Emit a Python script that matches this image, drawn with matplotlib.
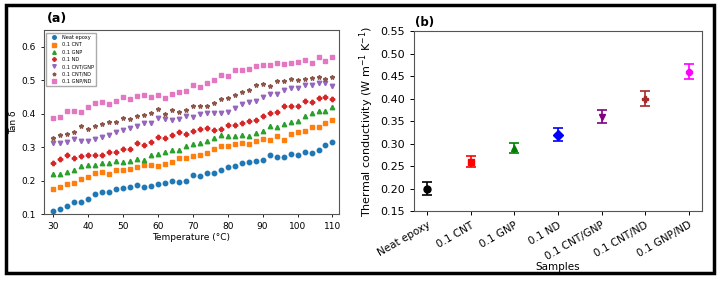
import numpy as np
import matplotlib
matplotlib.use("Agg")
import matplotlib.pyplot as plt
from matplotlib.patches import Rectangle

# (a) tan delta vs temperature
temperature = list(range(30, 111, 2))

neat_epoxy = [0.110, 0.114, 0.125, 0.137, 0.137, 0.145, 0.161, 0.165, 0.166, 0.176,
              0.177, 0.181, 0.187, 0.181, 0.184, 0.191, 0.192, 0.199, 0.197, 0.200,
              0.216, 0.215, 0.222, 0.222, 0.232, 0.242, 0.243, 0.254, 0.255, 0.260,
              0.262, 0.276, 0.271, 0.270, 0.281, 0.277, 0.287, 0.284, 0.293, 0.306, 0.315]
cnt = [0.175, 0.182, 0.191, 0.194, 0.204, 0.212, 0.224, 0.226, 0.221, 0.233,
       0.232, 0.234, 0.241, 0.246, 0.248, 0.244, 0.250, 0.257, 0.267, 0.267,
       0.275, 0.276, 0.283, 0.296, 0.304, 0.304, 0.311, 0.312, 0.311, 0.318,
       0.325, 0.322, 0.332, 0.321, 0.340, 0.344, 0.349, 0.359, 0.359, 0.372, 0.382]
gnp = [0.221, 0.221, 0.226, 0.232, 0.245, 0.246, 0.246, 0.252, 0.254, 0.259,
       0.255, 0.259, 0.264, 0.263, 0.276, 0.281, 0.286, 0.291, 0.292, 0.305,
       0.309, 0.313, 0.319, 0.326, 0.335, 0.332, 0.334, 0.335, 0.332, 0.343,
       0.347, 0.363, 0.360, 0.369, 0.374, 0.377, 0.394, 0.401, 0.407, 0.407, 0.421]
nd = [0.254, 0.266, 0.277, 0.268, 0.273, 0.278, 0.278, 0.277, 0.287, 0.286,
      0.296, 0.296, 0.312, 0.308, 0.317, 0.329, 0.326, 0.336, 0.346, 0.338,
      0.349, 0.353, 0.357, 0.352, 0.355, 0.365, 0.367, 0.372, 0.379, 0.381,
      0.392, 0.401, 0.404, 0.422, 0.424, 0.424, 0.438, 0.435, 0.447, 0.451, 0.445]
cnt_gnp = [0.312, 0.313, 0.317, 0.324, 0.319, 0.319, 0.324, 0.329, 0.336, 0.345,
           0.350, 0.358, 0.362, 0.373, 0.372, 0.387, 0.385, 0.381, 0.384, 0.392,
           0.391, 0.399, 0.401, 0.403, 0.403, 0.405, 0.417, 0.429, 0.435, 0.438,
           0.449, 0.459, 0.460, 0.471, 0.476, 0.476, 0.486, 0.487, 0.491, 0.493, 0.484]
cnt_nd = [0.328, 0.337, 0.340, 0.344, 0.362, 0.355, 0.364, 0.369, 0.375, 0.376,
          0.387, 0.385, 0.392, 0.395, 0.401, 0.413, 0.398, 0.411, 0.404, 0.412,
          0.422, 0.422, 0.422, 0.431, 0.444, 0.447, 0.457, 0.466, 0.472, 0.487,
          0.488, 0.483, 0.498, 0.497, 0.505, 0.501, 0.505, 0.506, 0.510, 0.504, 0.511]
gnp_nd = [0.386, 0.391, 0.407, 0.407, 0.406, 0.421, 0.432, 0.434, 0.430, 0.438,
          0.449, 0.445, 0.452, 0.456, 0.450, 0.455, 0.446, 0.459, 0.466, 0.469,
          0.486, 0.480, 0.492, 0.502, 0.516, 0.513, 0.530, 0.532, 0.534, 0.544,
          0.547, 0.546, 0.551, 0.550, 0.553, 0.556, 0.562, 0.553, 0.570, 0.559, 0.571]

series_labels = ["Neat epoxy", "0.1 CNT", "0.1 GNP", "0.1 ND",
                 "0.1 CNT/GNP", "0.1 CNT/ND", "0.1 GNP/ND"]
series_values = [neat_epoxy, cnt, gnp, nd, cnt_gnp, cnt_nd, gnp_nd]

# (b) thermal conductivity
samples = ["Neat epoxy", "0.1 CNT", "0.1 GNP", "0.1 ND",
           "0.1 CNT/GNP", "0.1 CNT/ND", "0.1 GNP/ND"]
conductivity = [0.20, 0.26, 0.29, 0.32, 0.36, 0.40, 0.46]
conductivity_err = [0.015, 0.012, 0.012, 0.015, 0.015, 0.016, 0.017]

fig = plt.figure(figsize=(7.2, 2.81), dpi=100)

# outer frame
fig.patches.append(Rectangle((0.008, 0.028), 0.984, 0.955, transform=fig.transFigure,
                             fill=False, edgecolor="black", linewidth=2.5))

# ---- panel (a)
ax1 = fig.add_axes([0.061, 0.238, 0.41, 0.655])
markers_a = ["o", "s", "^", "P", "v", "*", "s"]
colors_a = ["tab:blue", "tab:orange", "tab:green", "tab:red",
            "tab:purple", "tab:brown", "tab:pink"]
for vals, lab, m, c in zip(series_values, series_labels, markers_a, colors_a):
    ax1.plot(temperature, vals, linestyle="none", marker=m, color=c,
             markersize=3.2, label=lab)
ax1.set_xlim(27.4, 111.9)
ax1.set_ylim(0.1, 0.65)
ax1.set_xticks([30, 40, 50, 60, 70, 80, 90, 100, 110])
ax1.set_yticks([0.1, 0.2, 0.3, 0.4, 0.5, 0.6])
ax1.tick_params(labelsize=6.5, length=2.5, width=0.6)
ax1.set_xlabel("Temperature (°C)", fontsize=6.5, labelpad=1)
ax1.set_ylabel("Tan δ", fontsize=6.5, labelpad=2)
for s in ax1.spines.values():
    s.set_color("#555555")
ax1.legend(loc="upper left", fontsize=3.6, markerscale=0.8, handletextpad=0.6,
           labelspacing=0.45, borderpad=0.5, framealpha=1, edgecolor="#aaaaaa",
           fancybox=False)
fig.text(0.065, 0.935, "(a)", fontsize=9, fontweight="bold", va="center")

# ---- panel (b)
ax2 = fig.add_axes([0.575, 0.249, 0.40, 0.64])
markers_b = ["o", "s", "^", "D", "v", "P", "8"]
colors_b = ["black", "red", "green", "blue", "purple", "brown", "magenta"]
xpos = np.arange(len(samples))
for i in range(len(samples)):
    ax2.errorbar(xpos[i], conductivity[i], yerr=conductivity_err[i], fmt=markers_b[i],
                 color=colors_b[i], markersize=5, capsize=3.5, elinewidth=1.2,
                 capthick=1.2)
ax2.set_xlim(-0.3, 6.3)
ax2.set_ylim(0.15, 0.55)
ax2.set_yticks(np.arange(0.15, 0.551, 0.05))
ax2.set_yticklabels([f"{v:.2f}" for v in np.arange(0.15, 0.551, 0.05)])
ax2.set_xticks(xpos)
ax2.set_xticklabels(samples, rotation=30, ha="right", rotation_mode="anchor")
ax2.tick_params(axis="y", labelsize=8, length=3, width=0.7)
ax2.tick_params(axis="x", labelsize=7.5, length=3, width=0.7)
ax2.set_xlabel("Samples", fontsize=7.5, labelpad=0)
ax2.set_ylabel("Thermal conductivity (W m$^{-1}$ K$^{-1}$)", fontsize=8, labelpad=3)
for s in ax2.spines.values():
    s.set_color("#555555")
fig.text(0.577, 0.92, "(b)", fontsize=8.5, fontweight="bold", va="center")

fig.savefig("out.png", dpi=100)
